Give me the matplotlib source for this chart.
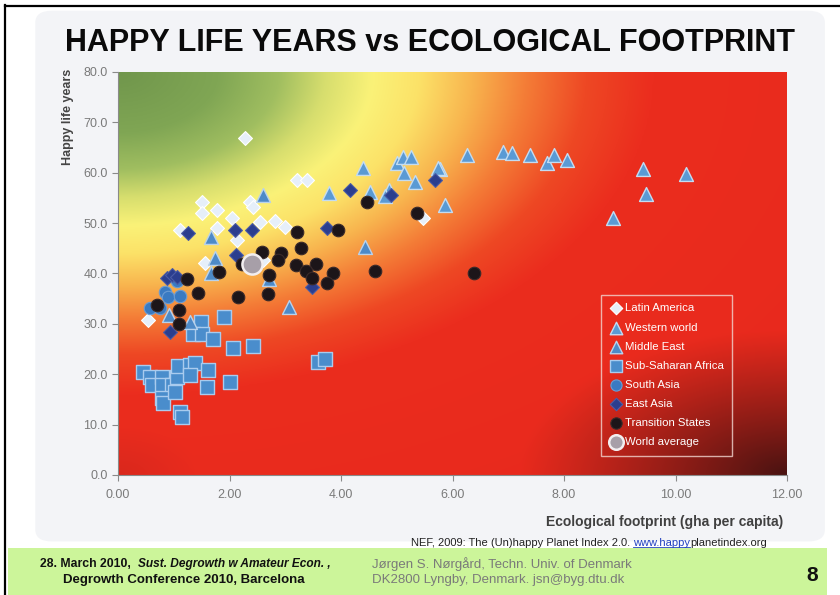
import numpy as np
import matplotlib
matplotlib.use("Agg")
import matplotlib.pyplot as plt
from matplotlib import font_manager
from matplotlib.patches import FancyBboxPatch, Rectangle

# ---------------- data (footprint gha/capita, happy life years) ----------------
latin_x = [2.28, 1.51, 1.51, 1.78, 2.37, 2.42, 3.21, 3.39, 2.04, 2.55, 2.82, 3.00, 1.11, 1.78, 5.47, 2.13, 1.56, 2.60, 0.54]
latin_y = [66.9, 54.2, 52.0, 52.6, 54.2, 53.2, 58.5, 58.5, 51.0, 50.2, 50.4, 49.2, 48.6, 49.0, 51.0, 46.6, 42.1, 42.7, 30.8]

western_x = [6.26, 6.91, 7.07, 7.39, 7.70, 7.82, 8.05, 9.42, 10.19, 9.47, 8.88, 5.87, 5.78,
             4.39, 5.00, 5.11, 5.26, 5.13, 5.33, 5.74, 4.52, 4.86, 4.79, 3.78]
western_y = [63.5, 64.1, 63.9, 63.5, 61.9, 63.5, 62.5, 60.7, 59.7, 55.8, 51.0, 53.6, 60.7,
             60.9, 61.9, 63.1, 63.1, 59.9, 58.1, 60.9, 56.2, 56.5, 55.4, 56.0]

mideast_x = [2.60, 1.67, 4.43, 3.07, 1.74, 1.67, 0.91, 1.29, 2.71]
mideast_y = [55.6, 47.2, 45.2, 33.3, 43.1, 40.1, 31.7, 30.4, 39.0]

ssa_x = [0.45, 0.57, 0.61, 0.79, 0.79, 0.97, 1.06, 1.08, 1.29, 1.38, 1.29, 1.61, 1.60, 2.01,
         0.79, 0.81, 1.02, 1.11, 1.15, 1.90, 1.49, 1.35, 1.51, 1.70, 2.06, 2.42, 3.59, 3.71]
ssa_y = [20.4, 19.4, 17.9, 19.4, 17.9, 17.9, 19.4, 21.6, 21.8, 22.2, 19.8, 20.8, 17.5, 18.5,
         15.3, 14.3, 16.5, 12.5, 11.5, 31.3, 30.4, 28.0, 28.0, 27.0, 25.2, 25.6, 22.4, 23.0]

sasia_x = [0.84, 0.90, 1.11, 0.57, 0.75, 1.05]
sasia_y = [36.3, 35.3, 35.5, 33.1, 33.1, 38.5]

easia_x = [1.26, 2.10, 2.40, 3.75, 4.16, 4.90, 5.69, 2.12, 0.88, 0.97, 1.06, 3.48, 0.93]
easia_y = [48.0, 48.6, 48.6, 49.0, 56.5, 55.6, 58.5, 43.7, 39.1, 39.7, 39.3, 37.3, 28.4]

trans_x = [3.21, 3.95, 3.28, 2.58, 2.92, 2.87, 3.19, 3.55, 3.37, 3.86, 3.48, 3.75, 2.71, 2.22,
           1.81, 1.24, 1.44, 2.15, 2.69, 0.70, 1.09, 1.09, 4.61, 6.39, 4.47, 5.36]
trans_y = [48.2, 48.6, 45.0, 44.2, 44.0, 42.7, 41.7, 41.9, 40.5, 40.1, 39.1, 38.1, 39.7, 41.9,
           40.3, 38.9, 36.1, 35.3, 35.9, 33.7, 32.7, 30.0, 40.5, 40.1, 54.2, 52.0]

world_x = [2.40]
world_y = [41.9]

x_ticks = [0, 2, 4, 6, 8, 10, 12]
x_ticklabels = ["0.00", "2.00", "4.00", "6.00", "8.00", "10.00", "12.00"]
y_ticks = [0, 10, 20, 30, 40, 50, 60, 70, 80]
y_ticklabels = ["0.0", "10.0", "20.0", "30.0", "40.0", "50.0", "60.0", "70.0", "80.0"]

# ---------------- fonts ----------------
def have(name):
    try:
        font_manager.findfont(font_manager.FontProperties(family=name), fallback_to_default=False)
        return True
    except Exception:
        return False

NARROW = "Liberation Sans Narrow" if have("Liberation Sans Narrow") else "Liberation Sans"
plt.rcParams['font.family'] = ['Liberation Sans', 'DejaVu Sans']

fig = plt.figure(figsize=(8.4, 5.95), dpi=100)
fig.patch.set_facecolor("white")

# light panel behind the chart
panel = FancyBboxPatch((0.042, 0.09), 0.94, 0.892, boxstyle="round,pad=0,rounding_size=0.02",
                       transform=fig.transFigure, facecolor="#f3f4f7", edgecolor="none", zorder=-5)
fig.patches.append(panel)

# green footer band
fig.patches.append(Rectangle((0.01, 0.0), 0.975, 0.079, transform=fig.transFigure,
                             facecolor="#ccf59a", edgecolor="none", zorder=-4))
# black frame lines (left and top)
fig.add_artist(plt.Line2D([0.006, 0.006], [0, 0.992], transform=fig.transFigure, color="black", lw=1.6))
fig.add_artist(plt.Line2D([0.006, 1.0], [0.99, 0.99], transform=fig.transFigure, color="black", lw=1.6))

ax = fig.add_axes([0.1405, 0.2017, 0.7964, 0.6773])
ax.set_zorder(2)
ax.set_xlim(0, 12)
ax.set_ylim(0, 80)

# background gradient
nx, ny = 400, 300
u = np.linspace(0, 1, nx)[None, :]
v = np.linspace(0, 1, ny)[:, None]
d = np.sqrt((1 - v) ** 2 + (1.0 * u) ** 2)
stops = [(0.00, (112, 150, 76)), (0.15, (128, 166, 84)), (0.24, (160, 190, 96)),
         (0.31, (215, 222, 110)), (0.38, (250, 242, 120)), (0.45, (252, 226, 104)),
         (0.53, (248, 180, 78)), (0.61, (244, 125, 55)), (0.70, (238, 72, 36)),
         (0.80, (235, 45, 30)), (1.6, (230, 38, 28))]
pos = np.array([s[0] for s in stops])
cols = np.array([s[1] for s in stops], dtype=float) / 255.0
img = np.zeros((ny, nx, 3))
for c in range(3):
    img[..., c] = np.interp(d, pos, cols[:, c])
r = np.sqrt(((1 - u) / 0.40) ** 2 + (v / 0.36) ** 2)
dark = np.clip(1 - r, 0, 1) ** 1.1 * 0.85
img = img * (1 - dark[..., None]) + np.array([0.18, 0.06, 0.06]) * dark[..., None]
r2 = np.sqrt((u / 0.12) ** 2 + (v / 0.12) ** 2)
dark2 = np.clip(1 - r2, 0, 1) * 0.2
img = img * (1 - dark2[..., None]) + np.array([0.6, 0.1, 0.1]) * dark2[..., None]
ax.imshow(img, extent=[0, 12, 0, 80], origin="lower", aspect="auto", zorder=0, interpolation="bilinear")

# scatter series
ax.scatter(ssa_x, ssa_y, marker="s", s=95, c="#4a8dcc", edgecolors="#a9cbee", linewidths=1.0, zorder=3,
           label="Sub-Saharan Africa")
ax.scatter(latin_x, latin_y, marker="D", s=50, c="#e6eff9", edgecolors="#ffffff", linewidths=0.8, zorder=3,
           label="Latin America")
ax.scatter(mideast_x, mideast_y, marker="^", s=100, c="#4d8ac8", edgecolors="#b8d2ec", linewidths=1.0, zorder=3,
           label="Middle East")
ax.scatter(western_x, western_y, marker="^", s=100, c="#5a9ad4", edgecolors="#c3dcf2", linewidths=1.0, zorder=3,
           label="Western world")
ax.scatter(sasia_x, sasia_y, marker="o", s=80, c="#3a7ac2", edgecolors="#6c9cd2", linewidths=0.8, zorder=4,
           label="South Asia")
ax.scatter(easia_x, easia_y, marker="D", s=50, c="#2b3e8e", edgecolors="#4b5ca6", linewidths=0.8, zorder=4,
           label="East Asia")
ax.scatter(trans_x, trans_y, marker="o", s=82, c="#1c1519", edgecolors="#3a2a2a", linewidths=0.8, zorder=4,
           label="Transition States")
ax.scatter(world_x, world_y, marker="o", s=210, c="#a79fa8", edgecolors="#f2eef0", linewidths=1.8, zorder=5,
           label="World average")

for sp in ["top", "right"]:
    ax.spines[sp].set_visible(False)
for sp in ["left", "bottom"]:
    ax.spines[sp].set_color("#8a8a8a")
    ax.spines[sp].set_linewidth(0.8)
ax.set_xticks(x_ticks)
ax.set_xticklabels(x_ticklabels)
ax.set_yticks(y_ticks)
ax.set_yticklabels(y_ticklabels)
ax.tick_params(axis="both", colors="#8a8a8a", labelcolor="#7a7a7a", labelsize=9, length=4, width=0.8)
ax.tick_params(axis="x", pad=6)

# legend
h, l = ax.get_legend_handles_labels()
order = ["Latin America", "Western world", "Middle East", "Sub-Saharan Africa", "South Asia",
         "East Asia", "Transition States", "World average"]
hd = dict(zip(l, h))
leg = ax.legend([hd[k] for k in order], order, loc="upper left", bbox_to_anchor=(0.714, 0.461),
                frameon=True, fontsize=8.2, labelcolor="white", handletextpad=0.3, handlelength=1.0,
                labelspacing=0.8, borderpad=0.75, markerscale=0.9, fancybox=False)
leg.legend_handles[-1].set_sizes([110])
leg.get_frame().set_facecolor("none")
leg.get_frame().set_edgecolor("#f2d6d0")
leg.get_frame().set_linewidth(1.0)
leg.set_zorder(6)

# titles and labels
fig.text(0.512, 0.928, "HAPPY LIFE YEARS vs ECOLOGICAL FOOTPRINT", ha="center", va="center",
         fontsize=22, fontweight="bold", family=[NARROW, "DejaVu Sans"], color="#0a0a0a")
fig.text(0.081, 0.884, "Happy life years", rotation=90, ha="center", va="top", fontsize=9,
         fontweight="bold", color="#454545")
fig.text(0.932, 0.123, "Ecological footprint (gha per capita)", ha="right", va="center", fontsize=10,
         fontweight="bold", color="#404040")

fig.canvas.draw()
rend = fig.canvas.get_renderer()
t1 = fig.text(0.489, 0.087, "NEF, 2009: The (Un)happy Planet Index 2.0. ", ha="left", va="center",
              fontsize=8, color="#222222", family=[NARROW, "DejaVu Sans"])
bb = t1.get_window_extent(rend).transformed(fig.transFigure.inverted())
t2 = fig.text(bb.x1, 0.087, "www.happy", ha="left", va="center", fontsize=8, color="#2040c0",
              family=[NARROW, "DejaVu Sans"])
bb2 = t2.get_window_extent(rend).transformed(fig.transFigure.inverted())
fig.add_artist(plt.Line2D([bb2.x0, bb2.x1], [bb2.y0 + 0.002, bb2.y0 + 0.002], transform=fig.transFigure,
                          color="#2040c0", lw=0.6))
fig.text(bb2.x1, 0.087, "planetindex.org", ha="left", va="center", fontsize=8, color="#222222",
         family=[NARROW, "DejaVu Sans"])

# footer
ta = fig.text(0.048, 0.052, "28. March 2010,  ", ha="left", va="center", fontsize=8.8, fontweight="bold",
              color="#111111", family=[NARROW, "DejaVu Sans"])
bba = ta.get_window_extent(rend).transformed(fig.transFigure.inverted())
fig.text(bba.x1, 0.052, "Sust. Degrowth w Amateur Econ. ,", ha="left", va="center", fontsize=8.6,
         fontweight="bold", style="italic", color="#111111", family=[NARROW, "DejaVu Sans"])
fig.text(0.075, 0.025, "Degrowth Conference 2010, Barcelona", ha="left", va="center", fontsize=9.5,
         fontweight="bold", color="#111111", family=[NARROW, "DejaVu Sans"])
fig.text(0.443, 0.052, "Jørgen S. Nørgård, Techn. Univ. of Denmark", ha="left", va="center", fontsize=9.5,
         color="#7a7a7a", family=[NARROW, "DejaVu Sans"])
fig.text(0.443, 0.025, "DK2800 Lyngby, Denmark. jsn@byg.dtu.dk", ha="left", va="center", fontsize=9.5,
         color="#7a7a7a", family=[NARROW, "DejaVu Sans"])
fig.text(0.967, 0.032, "8", ha="center", va="center", fontsize=15, fontweight="bold", color="#111111")

fig.savefig("out.png", dpi=100, facecolor=fig.get_facecolor())
